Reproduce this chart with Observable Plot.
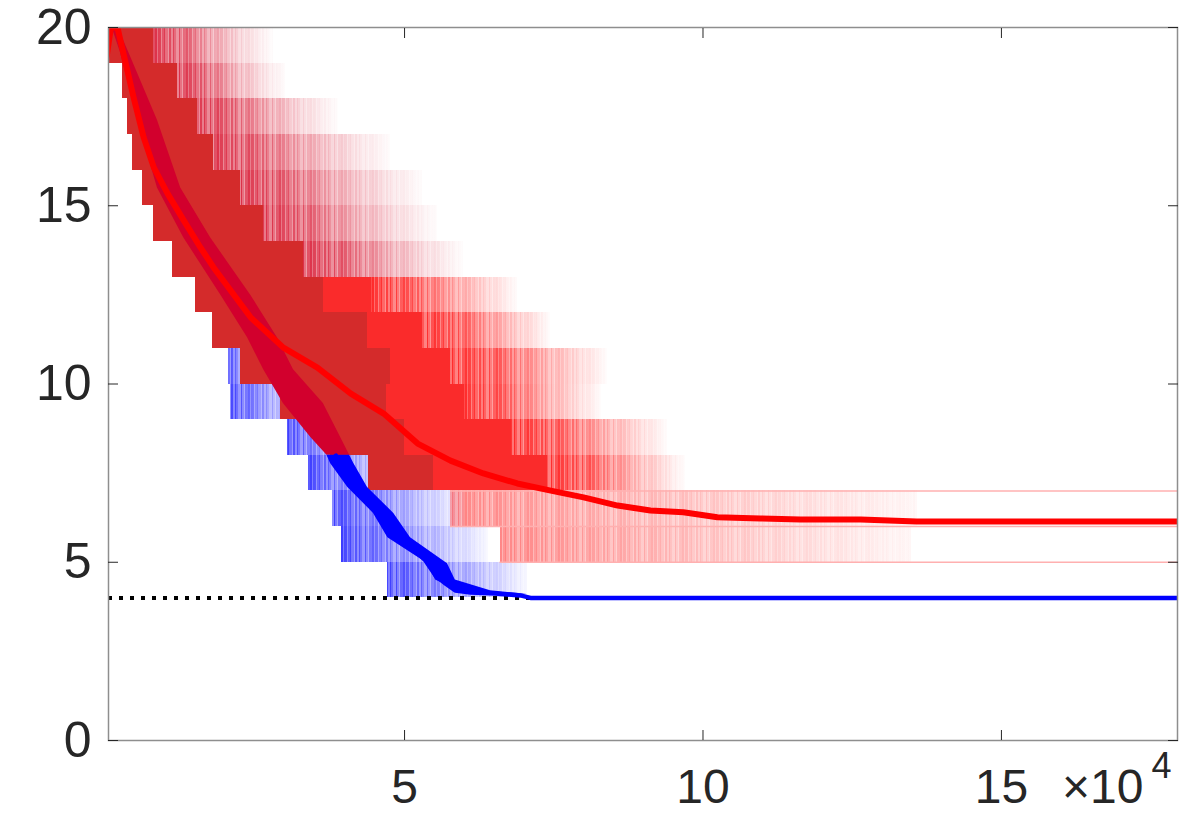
<!DOCTYPE html>
<html><head><meta charset="utf-8">
<script src="https://cdn.jsdelivr.net/npm/d3@7"></script>
<script src="https://cdn.jsdelivr.net/npm/@observablehq/plot@0.6"></script>
<style>
body{margin:0;background:#fff;}
#chart{width:1181px;height:813px;}
</style></head><body><div id="chart"></div>
<script>
// x values in units of 10^4 iterations
const xDomain = [0.04, 17.95];
const yDomain = [0, 20];
const xTicks = [5, 10, 15];
const yTicks = [0, 5, 10, 15, 20];

// red runs, one band per integer level k (band spans k..k+1)
const redLevels    = [19,   18,   17,   16,   15,   14,   13,   12,   11,   10,   9,    8,    7,    6,    5];
const redLeft      = [0.04, 0.28, 0.36, 0.44, 0.61, 0.80, 1.11, 1.50, 1.78, 2.25, 2.92, 3.76, 4.40, 5.77, 6.60];
const redDenseEnd  = [0.80, 1.20, 1.53, 1.80, 2.25, 2.64, 3.31, 3.64, 4.38, 4.77, 4.70, 5.00, 5.49, 5.77, 6.60];
const redBrightEnd = [0.80, 1.20, 1.53, 1.80, 2.25, 2.64, 3.31, 4.45, 5.30, 5.77, 6.00, 6.80, 7.40, 5.77, 6.60];
const redFadeEnd   = [2.80, 3.00, 3.90, 4.77, 5.30, 5.55, 5.99, 6.90, 7.45, 8.40, 8.30, 9.40, 9.70, 13.6, 13.5];

// red runs stuck at a level until the end
const stuckLevels = [7, 6, 5];
const stuckStart  = [5.77, 5.77, 6.60];

// blue runs, one band per integer level
const blueLevels  = [10,   9,    8,    7,    6,    5,    4];
const blueLeft    = [2.05, 2.09, 3.04, 3.39, 3.79, 3.95, 4.71];
const blueFadeEnd = [2.60, 3.40, 4.40, 5.00, 6.00, 6.40, 7.06];

// dense core of the blue runs
const coreY  = [20.0, 19.3, 17.4, 15.5, 14.1, 12.5, 11.3, 10.4, 9.45, 8.5,  8.0,  7.77, 7.1,  6.37, 5.69, 4.96, 4.5,  4.2,  4.1];
const coreX1 = [0.10, 0.24, 0.53, 0.86, 1.30, 1.92, 2.37, 2.64, 2.97, 3.43, 3.70, 3.76, 4.05, 4.48, 4.72, 5.39, 5.52, 5.89, 6.44];
const coreX2 = [0.20, 0.38, 0.86, 1.25, 1.75, 2.42, 2.87, 3.14, 3.64, 3.93, 4.08, 4.15, 4.38, 4.82, 5.10, 5.72, 5.85, 6.44, 7.06];

// mean curves
const redMeanX = [0.01, 0.08, 0.19, 0.29, 0.46, 0.63, 0.80, 1.03, 1.30, 1.58, 1.80, 2.42, 2.97, 3.54, 4.10, 4.65, 5.22, 5.77, 6.32, 6.89, 7.45, 8.00, 8.57, 9.12, 9.67, 10.24, 10.96, 11.63, 12.64, 13.58, 17.95];
const redMeanY = [19.19, 20.0, 20.0, 19.27, 18.04, 16.91, 16.07, 15.34, 14.59, 13.83, 13.27, 11.87, 11.02, 10.46, 9.73, 9.17, 8.33, 7.85, 7.49, 7.21, 7.01, 6.82, 6.59, 6.45, 6.40, 6.26, 6.23, 6.20, 6.20, 6.14, 6.14];
const blueMeanX = [3.85, 4.10, 4.26, 4.56, 4.85, 5.10, 5.35, 5.52, 5.69, 5.85, 6.11, 6.52, 6.94, 7.11, 17.95];
const blueMeanY = [7.99, 7.29, 7.01, 6.45, 5.89, 5.47, 5.05, 4.63, 4.40, 4.21, 4.15, 4.12, 4.07, 4.00, 4.00];

const optimum = [4];

const redBands = redLevels.map((k, i) => ({k, top: k + 1, left: redLeft[i], dense: redDenseEnd[i], bright: redBrightEnd[i], fade: redFadeEnd[i]}));
const blueBands = blueLevels.map((k, i) => ({k, top: k + 1, left: blueLeft[i], fade: blueFadeEnd[i]}));
const stuck = stuckLevels.map((y, i) => ({y, start: stuckStart[i], end: xDomain[1]}));
const core = coreY.map((y, i) => ({y, x1: coreX1[i], x2: coreX2[i]}));
const redMean = redMeanX.map((x, i) => ({x, y: redMeanY[i]}));
const blueMean = blueMeanX.map((x, i) => ({x, y: blueMeanY[i]}));

const crisp = {shapeRendering: "crispEdges", clip: true};
const fadeRect = (data, fill) => Plot.rect(data, {x1: "bright", x2: "fade", y1: "k", y2: "top", fill, ...crisp});

const chart = Plot.plot({
  width: 1181, height: 813,
  marginLeft: 108, marginRight: 4, marginTop: 27, marginBottom: 73,
  x: {domain: xDomain, label: null},
  y: {domain: yDomain, label: null},
  style: {fontFamily: "'Liberation Sans', Arial, Helvetica, sans-serif", color: "#262626", background: "#ffffff", overflow: "visible"},
  marks: [
    Plot.rect(blueBands, {x1: "left", x2: "fade", y1: "k", y2: "top", fill: "url(#fadeBlue)", ...crisp}),
    Plot.rect(redBands.filter(d => d.dense > d.left), {x1: "left", x2: "dense", y1: "k", y2: "top", fill: "#d42b2b", ...crisp}),
    Plot.rect(redBands.filter(d => d.bright > d.dense), {x1: "dense", x2: "bright", y1: "k", y2: "top", fill: "#fa2b2b", ...crisp}),
    fadeRect(redBands.filter(d => d.k >= 13), "url(#fadeMauve)"),
    fadeRect(redBands.filter(d => d.k >= 7 && d.k < 13), "url(#fadeRed)"),
    fadeRect(redBands.filter(d => d.k < 7), "url(#fadeRedWeak)"),
    Plot.ruleY(stuck, {y: "y", x1: "start", x2: "end", stroke: "#ffb0b0", strokeWidth: 1.5}),
    Plot.areaX(core.filter(d => d.y >= 8), {y: "y", x1: "x1", x2: "x2", fill: "#d2002d", clip: true}),
    Plot.areaX(core.filter(d => d.y <= 8), {y: "y", x1: "x1", x2: "x2", fill: "#0000ff", clip: true}),
    Plot.ruleY(optimum, {y: d => d, stroke: "#000000", strokeWidth: 4, strokeDasharray: "4,7"}),
    Plot.line(blueMean, {x: "x", y: "y", stroke: "#0000ff", strokeWidth: 4.5, clip: true}),
    Plot.line(redMean, {x: "x", y: "y", stroke: "#ff0000", strokeWidth: 6, strokeLinejoin: "round", clip: true}),
    Plot.frame({stroke: "#8e8e8e", strokeWidth: 1.5}),
    // inward ticks on all four sides
    Plot.axisX({anchor: "bottom", ticks: xTicks, tickSize: 10, dy: -10, tickFormat: () => "", stroke: "#262626"}),
    Plot.axisX({anchor: "top", ticks: xTicks, tickSize: 10, dy: 10, tickFormat: () => "", stroke: "#262626"}),
    Plot.axisY({anchor: "left", ticks: yTicks, tickSize: 10, dx: 10, tickFormat: () => "", stroke: "#262626"}),
    Plot.axisY({anchor: "right", ticks: yTicks, tickSize: 10, dx: -10, tickFormat: () => "", stroke: "#262626"}),
    // tick labels
    Plot.axisX({anchor: "bottom", ticks: xTicks, tickSize: 0, tickPadding: 28, fontSize: 48, tickFormat: d => String(d), fill: "#262626"}),
    Plot.axisY({anchor: "left", ticks: yTicks, tickSize: 0, tickPadding: 17, fontSize: 50, tickFormat: d => String(d), fill: "#262626"}),
    Plot.text(["×10"], {frameAnchor: "bottom-right", text: d => d, textAnchor: "end", lineAnchor: "top", dx: -34, dy: 28, fontSize: 48, fill: "#262626"}),
    Plot.text(["4"], {frameAnchor: "bottom-right", text: d => d, textAnchor: "end", lineAnchor: "top", dx: -6, dy: 12, fontSize: 36, fill: "#262626"})
  ]
});

const svg = d3.select(chart);
const defs = svg.insert("defs", ":first-child");
function grad(id, color, stops) {
  const g = defs.append("linearGradient").attr("id", id)
    .attr("x1", "0").attr("x2", "1").attr("y1", "0").attr("y2", "0");
  stops.forEach(([o, a]) => g.append("stop").attr("offset", o).attr("stop-color", color).attr("stop-opacity", a));
}
grad("fadeMauve", "#dc3048", [[0, 1], [0.25, 0.85], [0.55, 0.45], [0.8, 0.18], [1, 0.02]]);
grad("fadeRed", "#ff2b2b", [[0, 1], [0.3, 0.85], [0.65, 0.4], [1, 0.02]]);
grad("fadeRedWeak", "#ff2b2b", [[0, 0.6], [0.5, 0.32], [1, 0.05]]);
grad("fadeBlue", "#3c3cff", [[0, 1], [0.4, 0.65], [1, 0.05]]);

// streaky texture for the fading bundles of runs (a style, not data)
const streaks = [[0,2,1],[2,1,0.7],[3,3,0.95],[6,1,0.6],[7,2,0.85],[9,1,1],[10,3,0.75],[13,1,0.55],[14,2,0.95],[16,2,0.65],[18,1,1],[19,2,0.8],[21,3,0.6],[24,1,1],[25,2,0.7],[27,1,0.5],[28,3,0.85]];
const pat = defs.append("pattern").attr("id", "streakPat").attr("patternUnits", "userSpaceOnUse").attr("width", 31).attr("height", 20);
streaks.forEach(([x, w, a]) => pat.append("rect").attr("x", x).attr("y", 0).attr("width", w).attr("height", 20).attr("fill", "#fff").attr("fill-opacity", a));
const mask = defs.append("mask").attr("id", "streakMask").attr("maskUnits", "userSpaceOnUse").attr("x", 0).attr("y", 0).attr("width", 1181).attr("height", 813);
mask.append("rect").attr("x", 0).attr("y", 0).attr("width", 1181).attr("height", 813).attr("fill", "url(#streakPat)");
svg.selectAll("g[fill^='url(#fade']").attr("mask", "url(#streakMask)");

document.getElementById("chart").appendChild(chart);
</script>
</body></html>
